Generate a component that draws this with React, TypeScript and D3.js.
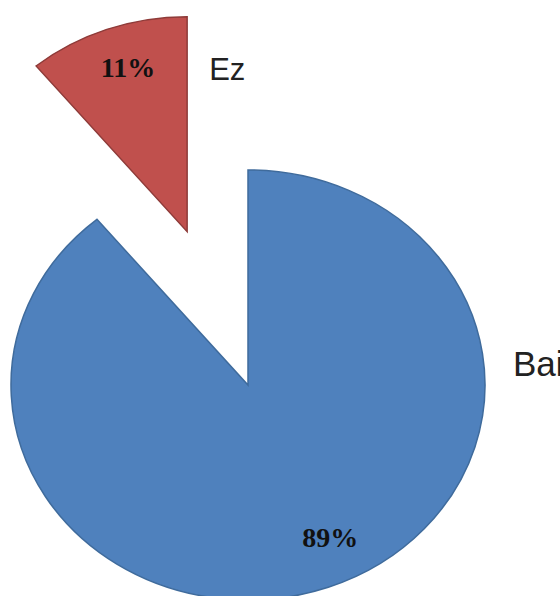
import React from "react";
import * as d3 from "d3";

const categories = ["Bai", "Ez"];
const values = [89, 11];
const percentLabels = ["89%", "11%"];
const colors = ["#4F81BD", "#C0504D"];
const strokeColors = ["#3F6B9C", "#8E3B39"];
const explode = [0, 163];

const W = 560;
const H = 596;
const cx = 248;
const cy = 385;
const R = 215;
const sx = 237 / 215;
const labelShift = [
  [18, -9],
  [5, -2],
];

export default function App() {
  const pie = d3.pie<number>().sort(null).value((d) => d);
  const arcs = pie(values);
  const arc = d3.arc<d3.PieArcDatum<number>>().innerRadius(0).outerRadius(R);

  const offset = (a: d3.PieArcDatum<number>, i: number) => {
    const mid = (a.startAngle + a.endAngle) / 2;
    return [Math.sin(mid) * explode[i] * sx, -Math.cos(mid) * explode[i]];
  };

  const labelPos = (a: d3.PieArcDatum<number>, i: number) => {
    const mid = (a.startAngle + a.endAngle) / 2;
    const [ox, oy] = offset(a, i);
    const r = R * 0.8;
    return [
      cx + ox + Math.sin(mid) * r * sx + labelShift[i][0],
      cy + oy - Math.cos(mid) * r + labelShift[i][1],
    ];
  };

  const catPos = [
    [cx + R * sx + 28, cy - 22],
    [cx + offset(arcs[1], 1)[0] + 22, cy + offset(arcs[1], 1)[1] - 162],
  ];
  const catSize = [35, 31];

  return (
    <svg
      width={W}
      height={H}
      style={{ position: "absolute", left: 0, top: 0, background: "#fff" }}
    >
      {arcs.map((a, i) => {
        const [ox, oy] = offset(a, i);
        return (
          <g key={categories[i]} transform={`translate(${cx + ox},${cy + oy}) scale(${sx},1)`}>
            <path
              d={arc(a) || ""}
              fill={colors[i]}
              stroke={strokeColors[i]}
              strokeWidth={1.5}
              vectorEffect="non-scaling-stroke"
              strokeLinejoin="miter"
            />
          </g>
        );
      })}
      {arcs.map((a, i) => {
        const [x, y] = labelPos(a, i);
        return (
          <text
            key={"p" + i}
            x={x}
            y={y}
            textAnchor="middle"
            dominantBaseline="central"
            fontFamily="'Liberation Serif', serif"
            fontWeight="bold"
            fontSize={28}
            fill="#111"
          >
            {percentLabels[i]}
          </text>
        );
      })}
      {categories.map((c, i) => (
        <text
          key={"c" + i}
          x={catPos[i][0]}
          y={catPos[i][1]}
          dominantBaseline="central"
          fontFamily="'Liberation Sans', Arial, sans-serif"
          fontSize={catSize[i]}
          fill="#222"
        >
          {c}
        </text>
      ))}
    </svg>
  );
}
